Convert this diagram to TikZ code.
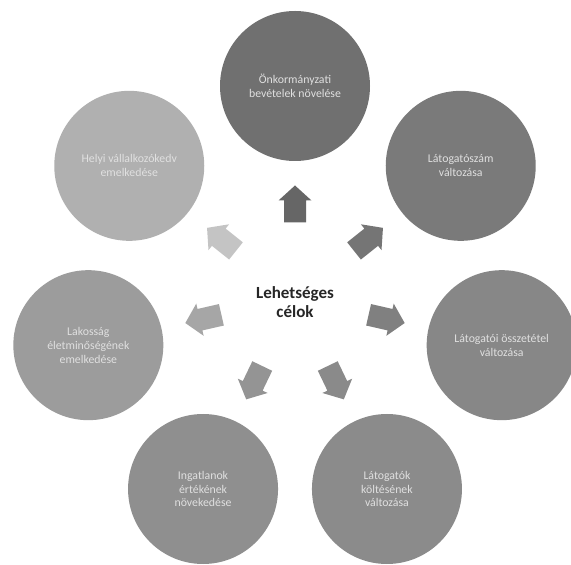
\documentclass[tikz,border=0pt]{standalone}
\usepackage{fontspec}
\setmainfont{Carlito}
\usetikzlibrary{calc}
\begin{document}
\begin{tikzpicture}[x=1pt,y=1pt,
  goal/.style={circle,minimum size=150pt,inner sep=0pt,text=white!88!black,align=center,
    font=\fontsize{11.8}{13.8}\selectfont},
  hub/.style={align=center,font=\fontsize{17}{19.5}\selectfont\bfseries,text=black!85}]
\useasboundingbox (0,0) rectangle (571,565);
\fill[white] (0,0) rectangle (571,565);
\coordinate (h) at (295,267);
\definecolor{g1}{gray}{0.44}
\definecolor{g2}{gray}{0.48}
\definecolor{g3}{gray}{0.53}
\definecolor{g4}{gray}{0.545}
\definecolor{g5}{gray}{0.56}
\definecolor{g6}{gray}{0.61}
\definecolor{g7}{gray}{0.69}
\definecolor{a1}{gray}{0.40}
\definecolor{a2}{gray}{0.46}
\definecolor{a3}{gray}{0.50}
\definecolor{a4}{gray}{0.54}
\definecolor{a5}{gray}{0.58}
\definecolor{a6}{gray}{0.65}
\definecolor{a7}{gray}{0.77}
\node[goal,fill=g1] (c1) at ($(h)+(90:212)$) {Önkormányzati\\bevételek növelése};
\node[goal,fill=g2] (c2) at ($(h)+(38.57:212)$) {Látogatószám\\változása};
\node[goal,fill=g3] (c3) at ($(h)+(-12.86:212)$) {Látogatói összetétel\\változása};
\node[goal,fill=g4] (c4) at ($(h)+(-64.29:212)$) {Látogatók\\költésének\\változása};
\node[goal,fill=g5] (c5) at ($(h)+(-115.71:212)$) {Ingatlanok\\értékének\\növekedése};
\node[goal,fill=g6] (c6) at ($(h)+(-167.14:212)$) {Lakosság\\életminőségének\\emelkedése};
\node[goal,fill=g7] (c7) at ($(h)+(141.43:212)$) {Helyi vállalkozókedv\\emelkedése};
\node[hub] (center) at ($(h)+(0,-4)$) {Lehetséges\\célok};
\foreach \ang/\col in {90/a1,38.57/a2,-12.86/a3,-64.29/a4,-115.71/a5,-167.14/a6,141.43/a7}{
  \fill[\col,shift={($(h)+(\ang:94)$)},rotate=\ang]
    (-18.5,-11) -- (3.5,-11) -- (3.5,-16.5) -- (18.5,0) -- (3.5,16.5) -- (3.5,11) -- (-18.5,11) -- cycle;
}
\end{tikzpicture}
\end{document}
